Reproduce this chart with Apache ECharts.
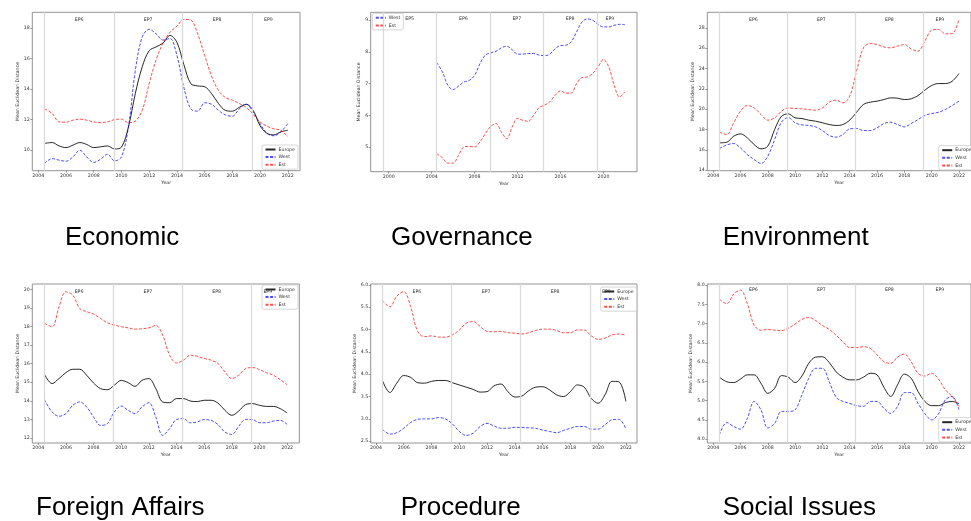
<!DOCTYPE html>
<html>
<head>
<meta charset="utf-8">
<script src="https://cdn.jsdelivr.net/npm/echarts@6/dist/echarts.min.js"></script>
<style>
html,body{margin:0;padding:0;background:#fff;}
#c{width:971px;height:521px;}
</style>
</head>
<body>
<div id="c"></div>
<script>
// x positions of the readings (years)
const years = [2004.45, 2005, 2005.5, 2006, 2006.5, 2007, 2007.5, 2008, 2008.5, 2009, 2009.5, 2010, 2010.5, 2011, 2011.5, 2012, 2012.5, 2013, 2013.5, 2014, 2014.5, 2015, 2015.5, 2016, 2016.5, 2017, 2017.5, 2018, 2018.5, 2019, 2019.5, 2020, 2020.5, 2021, 2021.5, 2022];

// Economic
const econEurope = [10.44, 10.5, 10.28, 10.17, 10.33, 10.5, 10.37, 10.17, 10.22, 10.28, 10.08, 10.2, 11.5, 13.7, 15.45, 16.5, 16.75, 17.0, 17.5, 17.05, 15.6, 14.35, 14.2, 14.15, 13.7, 13.05, 12.6, 12.55, 12.8, 13.0, 12.6, 11.6, 11.1, 11.0, 11.2, 11.3];
const econWest = [9.13, 9.45, 9.35, 9.28, 9.56, 10.0, 9.56, 9.2, 9.41, 9.74, 9.3, 9.56, 11.5, 15.2, 17.4, 17.9, 17.6, 17.2, 17.3, 16.2, 14.1, 12.7, 12.55, 13.1, 13.0, 12.6, 12.3, 12.22, 12.7, 13.0, 12.5, 11.74, 11.1, 10.94, 11.2, 11.74];
const econEst = [12.7, 12.4, 11.85, 11.83, 11.96, 12.03, 11.96, 11.85, 11.8, 11.85, 12.0, 12.03, 11.8, 11.9, 12.6, 14.35, 15.9, 17.0, 17.7, 18.1, 18.54, 18.5, 17.6, 16.2, 14.84, 13.9, 13.44, 13.27, 13.05, 12.8, 12.35, 11.85, 11.57, 11.4, 11.3, 10.87];
// Governance
const govWest = [7.67, 7.37, 6.95, 6.81, 6.92, 7.05, 7.1, 7.26, 7.63, 7.9, 7.97, 8.02, 8.13, 8.18, 8.07, 7.93, 7.93, 7.95, 7.95, 7.9, 7.88, 7.93, 8.1, 8.2, 8.21, 8.32, 8.63, 8.94, 9.04, 9.0, 8.87, 8.79, 8.79, 8.84, 8.87, 8.86];
const govEst = [4.79, 4.66, 4.49, 4.49, 4.74, 5.0, 5.02, 5.0, 5.16, 5.42, 5.65, 5.74, 5.47, 5.26, 5.63, 5.9, 5.84, 5.81, 6.0, 6.24, 6.32, 6.42, 6.63, 6.77, 6.7, 6.7, 7.0, 7.19, 7.21, 7.32, 7.53, 7.76, 7.53, 6.95, 6.58, 6.74];
// Environment
const envEurope = [16.69, 16.75, 17.34, 17.57, 17.18, 16.52, 16.1, 16.36, 18.0, 19.3, 19.54, 19.15, 19.08, 18.92, 18.82, 18.66, 18.49, 18.4, 18.49, 18.92, 19.7, 20.46, 20.69, 20.79, 20.95, 21.11, 21.08, 20.95, 21.02, 21.34, 21.87, 22.33, 22.52, 22.52, 22.75, 23.5];
const envWest = [16.13, 16.49, 16.62, 16.2, 15.54, 15.05, 14.66, 15.38, 17.02, 18.72, 19.18, 18.66, 18.46, 18.4, 18.26, 17.9, 17.41, 17.25, 17.51, 18.07, 18.1, 17.9, 17.9, 18.16, 18.59, 18.72, 18.49, 18.26, 18.59, 18.98, 19.38, 19.57, 19.7, 19.97, 20.36, 20.79];
const envEst = [17.74, 17.51, 18.66, 19.8, 20.36, 20.13, 19.48, 18.92, 19.15, 19.8, 20.13, 20.07, 20.03, 19.97, 19.9, 20.13, 20.69, 20.89, 20.62, 21.28, 23.74, 26.03, 26.46, 26.36, 26.13, 26.03, 26.2, 26.36, 25.93, 25.7, 26.69, 27.77, 27.84, 27.41, 27.44, 28.82];
// Foreign Affairs
const forEurope = [15.43, 14.93, 15.2, 15.52, 15.7, 15.7, 15.38, 14.96, 14.66, 14.6, 14.84, 15.1, 14.98, 14.78, 15.1, 15.2, 14.66, 13.94, 13.9, 14.12, 14.12, 13.99, 13.96, 14.03, 14.03, 13.88, 13.49, 13.22, 13.45, 13.8, 13.85, 13.76, 13.7, 13.7, 13.58, 13.35];
const forWest = [14.06, 13.4, 13.17, 13.31, 13.76, 13.94, 13.67, 13.13, 12.68, 12.77, 13.4, 13.72, 13.49, 13.31, 13.67, 13.9, 13.13, 12.14, 12.5, 13.0, 13.04, 12.82, 12.86, 12.99, 12.95, 12.72, 12.32, 12.19, 12.63, 13.0, 12.99, 12.82, 12.82, 12.91, 12.95, 12.73];
const forEst = [18.17, 17.99, 19.06, 19.87, 19.69, 18.97, 18.8, 18.67, 18.44, 18.2, 18.08, 17.99, 17.93, 17.86, 17.88, 17.93, 18.06, 17.54, 16.46, 16.04, 16.19, 16.46, 16.4, 16.28, 16.19, 16.01, 15.56, 15.2, 15.38, 15.74, 15.79, 15.68, 15.52, 15.38, 15.14, 14.87];
// Procedure
const procEurope = [3.87, 3.59, 3.8, 3.97, 3.93, 3.81, 3.8, 3.84, 3.86, 3.86, 3.81, 3.76, 3.71, 3.66, 3.6, 3.61, 3.74, 3.78, 3.61, 3.49, 3.51, 3.63, 3.71, 3.72, 3.65, 3.54, 3.5, 3.61, 3.76, 3.71, 3.46, 3.35, 3.54, 3.84, 3.83, 3.39];
const procWest = [2.77, 2.66, 2.69, 2.79, 2.92, 2.99, 3.0, 3.0, 3.03, 3.0, 2.89, 2.72, 2.63, 2.68, 2.83, 2.9, 2.84, 2.79, 2.79, 2.81, 2.81, 2.8, 2.79, 2.75, 2.72, 2.69, 2.74, 2.79, 2.83, 2.83, 2.77, 2.77, 2.87, 2.98, 2.99, 2.77];
const procEst = [5.65, 5.51, 5.75, 5.85, 5.51, 4.96, 4.84, 4.86, 4.83, 4.83, 4.88, 4.99, 5.14, 5.18, 5.07, 4.96, 4.95, 4.96, 4.93, 4.92, 4.9, 4.93, 4.98, 5.01, 5.01, 4.98, 4.93, 4.93, 4.99, 4.99, 4.86, 4.78, 4.81, 4.88, 4.9, 4.88];
// Social Issues
const socEurope = [5.61, 5.49, 5.47, 5.56, 5.67, 5.67, 5.45, 5.19, 5.32, 5.65, 5.61, 5.47, 5.64, 5.97, 6.13, 6.14, 5.99, 5.75, 5.61, 5.54, 5.54, 5.61, 5.71, 5.67, 5.35, 5.11, 5.41, 5.69, 5.58, 5.24, 4.98, 4.87, 4.87, 4.95, 4.98, 4.92];
const socWest = [4.11, 4.43, 4.33, 4.26, 4.54, 4.98, 4.76, 4.29, 4.41, 4.72, 4.72, 4.76, 5.15, 5.58, 5.84, 5.84, 5.49, 5.09, 4.98, 4.93, 4.87, 4.85, 4.98, 4.98, 4.8, 4.67, 4.85, 5.21, 5.21, 4.93, 4.66, 4.5, 4.66, 5.02, 5.11, 4.76];
const socEst = [7.63, 7.52, 7.77, 7.87, 7.52, 6.96, 6.83, 6.85, 6.83, 6.82, 6.88, 6.99, 7.11, 7.16, 7.08, 6.95, 6.85, 6.7, 6.53, 6.38, 6.38, 6.4, 6.36, 6.19, 6.01, 5.97, 6.13, 6.21, 6.01, 5.71, 5.64, 5.71, 5.56, 5.28, 5.11, 4.85];

// European Parliament terms
const epStarts = [1999.45, 2004.45, 2009.45, 2014.4, 2019.4];
const epNames = ['EP5', 'EP6', 'EP7', 'EP8', 'EP9'];
const epLabelX = [2001.95, 2006.95, 2011.93, 2016.9, 2020.6];

// tick labels
const yearTicks2 = [2004, 2006, 2008, 2010, 2012, 2014, 2016, 2018, 2020, 2022];
const yearTicks4 = [2000, 2004, 2008, 2012, 2016, 2020];
const econTicks = [10, 12, 14, 16, 18];
const govTicks = [5, 6, 7, 8, 9];
const envTicks = [14, 16, 18, 20, 22, 24, 26, 28];
const forTicks = [12, 13, 14, 15, 16, 17, 18, 19, 20];
const procTicks = [2.5, 3.0, 3.5, 4.0, 4.5, 5.0, 5.5, 6.0];
const socTicks = [4.0, 4.5, 5.0, 5.5, 6.0, 6.5, 7.0, 7.5, 8.0];

const titles = ['Economic', 'Governance', 'Environment', 'Foreign Affairs', 'Procedure', 'Social Issues'];

const panels = [
  {title: titles[0], grid: {left: 32.3, top: 12.3, width: 267.7, height: 158.4}, x: [2003.57, 2022.88], xt: yearTicks2, y: [8.66, 19.01], yt: econTicks, ydec: 0, series: [['Europe', econEurope], ['West', econWest], ['Est', econEst]], legend: {left: 262, top: 145}, tx: 65, ty: 238, nameGap: 11},
  {title: titles[1], grid: {left: 370.7, top: 12.3, width: 266.3, height: 159.4}, x: [1998.32, 2023.13], xt: yearTicks4, y: [4.22, 9.25], yt: govTicks, ydec: 0, series: [['West', govWest], ['Est', govEst]], legend: {left: 372.3, top: 13.3}, tx: 391, ty: 238, nameGap: 8.5},
  {title: titles[2], grid: {left: 707.3, top: 12.3, width: 267.2, height: 158.4}, x: [2003.57, 2022.88], xt: yearTicks2, y: [13.95, 29.53], yt: envTicks, ydec: 0, series: [['Europe', envEurope], ['West', envWest], ['Est', envEst]], legend: {left: 938.7, top: 145.7}, tx: 722.7, ty: 238, nameGap: 11},
  {title: titles[3], grid: {left: 32.3, top: 284, width: 267, height: 159}, x: [2003.57, 2022.88], xt: yearTicks2, y: [11.73, 20.29], yt: forTicks, ydec: 0, series: [['Europe', forEurope], ['West', forWest], ['Est', forEst]], legend: {left: 262, top: 285}, tx: 36, ty: 508, nameGap: 11},
  {title: titles[4], grid: {left: 370.7, top: 284, width: 266.3, height: 159}, x: [2003.62, 2022.8], xt: yearTicks2, y: [2.46, 6.02], yt: procTicks, ydec: 1, series: [['Europe', procEurope], ['West', procWest], ['Est', procEst]], legend: {left: 600.7, top: 287}, tx: 400.7, ty: 508, nameGap: 13},
  {title: titles[5], grid: {left: 707.3, top: 284, width: 267.2, height: 159}, x: [2003.57, 2022.88], xt: yearTicks2, y: [3.9, 8.03], yt: socTicks, ydec: 1, series: [['Europe', socEurope], ['West', socWest], ['Est', socEst]], legend: {left: 938.7, top: 417.7}, tx: 722.7, ty: 508, nameGap: 12}
];

const styles = {
  Europe: {color: 'rgba(0,0,0,0.85)', type: 'solid'},
  West: {color: 'rgba(0,0,255,0.7)', type: [3, 1.6]},
  Est: {color: 'rgba(255,0,0,0.7)', type: [3, 1.6]}
};

const FS = 4.7;
const FF = 'DejaVu Sans';
const grids = [], xAxes = [], yAxes = [], series = [], legends = [], graphics = [];

panels.forEach((p, i) => {
  grids.push(Object.assign({show: true, borderColor: '#939393', borderWidth: 1, backgroundColor: 'transparent'}, p.grid));
  xAxes.push({
    type: 'value', gridIndex: i, min: p.x[0], max: p.x[1],
    axisLine: {show: false},
    axisTick: {show: true, length: 2, lineStyle: {color: '#555', width: 0.6}, customValues: p.xt},
    axisLabel: {customValues: p.xt, fontSize: FS, fontFamily: FF, color: '#333', margin: 2.5, formatter: v => String(v)},
    splitLine: {show: false},
    name: 'Year', nameLocation: 'middle', nameGap: 9.5,
    nameTextStyle: {fontSize: FS, fontFamily: FF, color: '#333'}
  });
  yAxes.push({
    type: 'value', gridIndex: i, min: p.y[0], max: p.y[1],
    axisLine: {show: false},
    axisTick: {show: true, length: 2, lineStyle: {color: '#555', width: 0.6}, customValues: p.yt},
    axisLabel: {customValues: p.yt, fontSize: FS, fontFamily: FF, color: '#333', margin: 2.5, formatter: v => v.toFixed(p.ydec)},
    splitLine: {show: false},
    name: 'Mean Euclidean Distance', nameLocation: 'middle', nameGap: p.nameGap,
    nameTextStyle: {fontSize: FS, fontFamily: FF, color: '#333'}
  });
  // EP term separators and labels
  const inRange = epStarts.map((v, k) => k).filter(k => epStarts[k] >= p.x[0] && epStarts[k] <= p.x[1]);
  let ymax = -Infinity;
  p.series.forEach(s => s[1].forEach(v => { if (v > ymax) ymax = v; }));
  series.push({
    type: 'line', xAxisIndex: i, yAxisIndex: i, data: [], z: 1, silent: true,
    markLine: {
      silent: true, symbol: ['none', 'none'], animation: false,
      label: {show: false},
      lineStyle: {color: '#dadada', type: 'solid', width: 1.3},
      data: inRange.map(k => ({xAxis: epStarts[k]}))
    },
    markPoint: {
      silent: true, animation: false, symbol: 'circle', symbolSize: 0.1,
      itemStyle: {color: 'rgba(0,0,0,0)'},
      label: {show: true, position: 'inside', formatter: '{b}', fontSize: FS, fontFamily: FF, color: '#333'},
      data: inRange.map(k => ({name: epNames[k], coord: [epLabelX[k], ymax]}))
    }
  });
  p.series.forEach(s => {
    const st = styles[s[0]];
    series.push({
      name: s[0], type: 'line', xAxisIndex: i, yAxisIndex: i, z: 3,
      smooth: 0.35, symbol: 'none', animation: false,
      itemStyle: {color: st.color},
      lineStyle: {color: st.color, width: 1, type: st.type},
      data: years.map((yr, k) => [yr, s[1][k]])
    });
  });
  legends.push({
    left: p.legend.left, top: p.legend.top, orient: 'vertical',
    data: p.series.map(s => s[0]), selectedMode: false,
    itemWidth: 10, itemHeight: 4, itemGap: 2.6,
    padding: [2, 3, 2, 2.5],
    itemStyle: {opacity: 0, borderWidth: 0},
    backgroundColor: 'rgba(255,255,255,0.8)', borderColor: '#cccccc', borderWidth: 0.8, borderRadius: 2,
    textStyle: {fontSize: FS, fontFamily: FF, color: '#333', padding: [0, 0, 0, -2]}
  });
  graphics.push({
    type: 'text', x: p.tx, y: p.ty, silent: true,
    style: {text: p.title, fontSize: 26, fontFamily: 'Liberation Sans', fill: '#000', verticalAlign: 'middle', align: 'left'}
  });
});

const chart = echarts.init(document.getElementById('c'), null, {renderer: 'canvas'});
chart.setOption({
  backgroundColor: '#fff',
  animation: false,
  grid: grids, xAxis: xAxes, yAxis: yAxes, series: series, legend: legends,
  graphic: graphics
});
</script>
</body>
</html>
